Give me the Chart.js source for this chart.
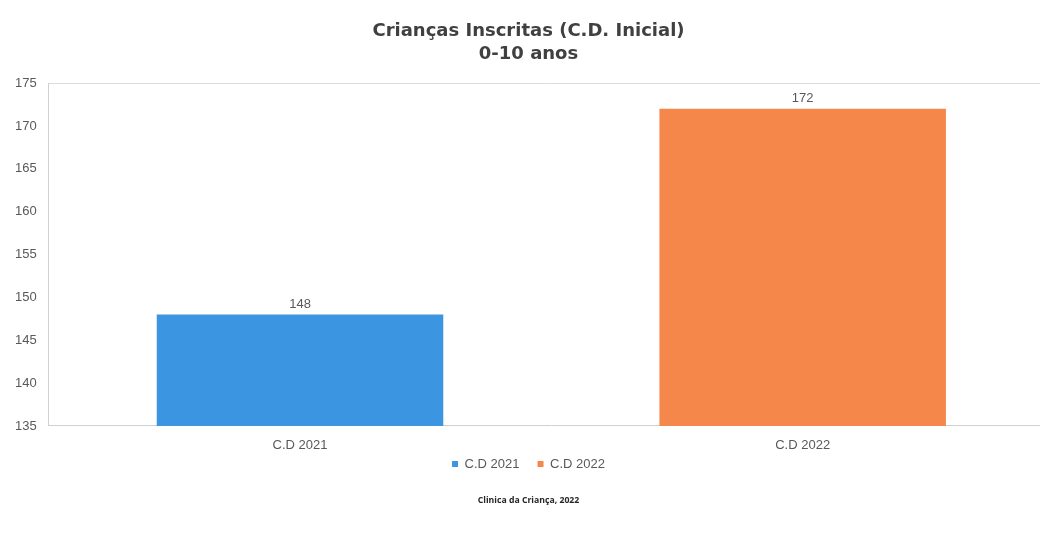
<!DOCTYPE html>
<html>
<head>
<meta charset="utf-8">
<script src="https://cdn.jsdelivr.net/npm/chart.js@4"></script>
<style>
html,body{margin:0;padding:0;background:#fff;overflow:hidden;}
#wrap{width:1060px;height:533px;position:relative;}
</style>
</head>
<body>
<div id="wrap"><canvas id="c"></canvas></div>
<script>
const categories = ["C.D 2021", "C.D 2022"];
const values = [148, 172];
const barColors = ["#3C95E0", "#F5874B"];
const titleLines = ["Crianças Inscritas (C.D. Inicial)", "0-10 anos"];
const footerText = "Clinica da Criança, 2022";
const yMin = 135, yMax = 175, yStep = 5;

const datasets = categories.map((cat, i) => ({
  label: cat,
  data: categories.map((_, j) => j === i ? values[i] : null),
  backgroundColor: barColors[i],
  borderWidth: 0,
  barPercentage: 0.57,
  categoryPercentage: 1
}));

const labelFont = { family: '"Liberation Sans", Arial, sans-serif', size: 13 };

const valueLabels = {
  id: 'valueLabels',
  afterDatasetsDraw(chart) {
    const ctx = chart.ctx;
    ctx.save();
    ctx.font = '13px "Liberation Sans", Arial, sans-serif';
    ctx.fillStyle = '#595959';
    ctx.textAlign = 'center';
    ctx.textBaseline = 'bottom';
    chart.data.datasets.forEach((ds, di) => {
      const meta = chart.getDatasetMeta(di);
      meta.data.forEach((el, idx) => {
        const v = ds.data[idx];
        if (v == null) return;
        ctx.fillText(String(v), el.x, el.y - 4);
      });
    });
    ctx.restore();
  }
};

new Chart(document.getElementById('c'), {
  type: 'bar',
  data: { labels: categories, datasets },
  options: {
    responsive: true,
    maintainAspectRatio: false,
    animation: false,
    layout: { padding: { left: 3, right: 6, top: 10, bottom: 27 } },
    plugins: {
      title: {
        display: true,
        text: titleLines,
        color: '#404040',
        font: { family: '"DejaVu Sans", sans-serif', size: 18, weight: 'bold', lineHeight: 1.28 },
        padding: { top: 10, bottom: 17 }
      },
      subtitle: {
        display: true,
        position: 'bottom',
        text: footerText,
        color: '#262626',
        font: { family: '"Open Sans", sans-serif', size: 8.7, weight: 'bold' },
        padding: { top: 15, bottom: 0 }
      },
      legend: {
        position: 'bottom',
        labels: {
          boxWidth: 6, boxHeight: 6,
          color: '#595959',
          font: labelFont,
          padding: 0,
          generateLabels: (chart) => {
            const items = Chart.defaults.plugins.legend.labels.generateLabels(chart);
            items.forEach((it, i) => { if (i < items.length - 1) it.text = it.text + '     '; });
            return items;
          }
        }
      },
      tooltip: { enabled: false }
    },
    scales: {
      x: {
        stacked: true,
        grid: { display: false },
        border: { display: true, color: '#d0d0d0' },
        ticks: { color: '#595959', font: labelFont, padding: 4 }
      },
      y: {
        min: yMin, max: yMax,
        ticks: { stepSize: yStep, color: '#595959', font: labelFont, padding: 12 },
        grid: {
          drawTicks: false,
          color: (c) => (c.tick && c.tick.value === yMax) ? '#dcdcdc' : 'rgba(0,0,0,0)'
        },
        border: { display: true, color: '#d0d0d0' }
      }
    }
  },
  plugins: [valueLabels]
});
</script>
</body>
</html>
